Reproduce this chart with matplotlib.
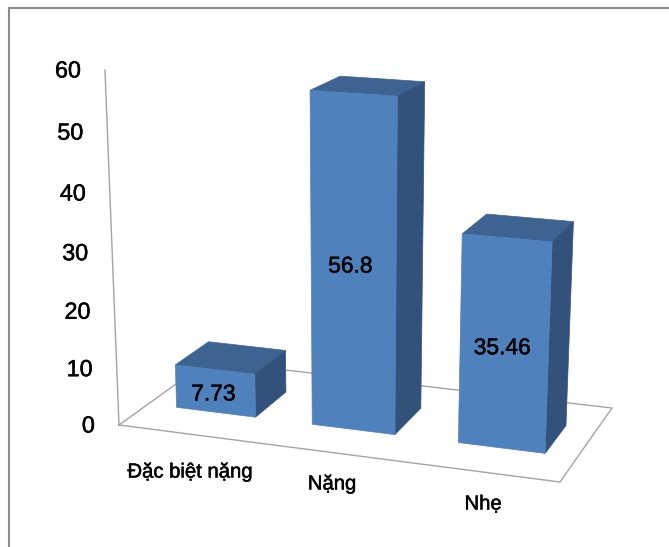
import numpy as np
import matplotlib
matplotlib.use("Agg")
import matplotlib.pyplot as plt
import matplotlib.patheffects as pe

categories = ["Đặc biệt nặng", "Nặng", "Nhẹ"]
values = [7.73, 56.8, 35.46]
value_labels = ["7.73", "56.8", "35.46"]
y_ticks = [0, 10, 20, 30, 40, 50, 60]

plt.rcParams["font.family"] = ["Liberation Sans", "DejaVu Sans"]

# floor corners in pixels: front left, front right, back right, back left
fl, fr, br, bl = (119, 425), (560, 482), (612, 408), (208, 361)
vanish = (351, 6300)  # vertical edges converge here
ymax = 60

front = "#4f81bd"
top = "#3d6491"
side = "#32527c"
line = "#a3a3a3"
frame = "#8c8c8c"

bar_centers = [0.1667, 0.4955, 0.8333]
bar_width = 0.193
depth0, depth1 = 0.31, 0.69

# homography for the floor, (u, w) in the unit square
dx1, dx2, sx = fr[0] - br[0], bl[0] - br[0], fl[0] - fr[0] + br[0] - bl[0]
dy1, dy2, sy = fr[1] - br[1], bl[1] - br[1], fl[1] - fr[1] + br[1] - bl[1]
det = dx1 * dy2 - dx2 * dy1
g = (sx * dy2 - dx2 * sy) / det
h = (dx1 * sy - sx * dy1) / det
a = fr[0] - fl[0] + g * fr[0]
b = bl[0] - fl[0] + h * bl[0]
d = fr[1] - fl[1] + g * fr[1]
e = bl[1] - fl[1] + h * bl[1]
# scale of the value axis, chosen so 60 lands at the top of the axis line
axis_top_y = 70
s = (axis_top_y - fl[1]) / (ymax * (vanish[1] - axis_top_y))


def proj(u, w, v):
    den = g * u + h * w + 1 + v * s
    x = (a * u + b * w + fl[0] + v * s * vanish[0]) / den
    y = (d * u + e * w + fl[1] + v * s * vanish[1]) / den
    return x, y


# slightly heavier text
heavy = [pe.withStroke(linewidth=0.35, foreground="black")]

fig = plt.figure(figsize=(6.69, 5.47), dpi=100)
ax = fig.add_axes([0, 0, 1, 1])
ax.set_xlim(0, 669)
ax.set_ylim(547, 0)
ax.axis("off")

# outer border, only left and top are inside the image
ax.plot([9, 9, 669], [547, 8, 8], color=frame, lw=1.5, solid_joinstyle="miter")

# floor and value axis
corners = [proj(0, 0, 0), proj(1, 0, 0), proj(1, 1, 0), proj(0, 1, 0), proj(0, 0, 0)]
ax.plot([c[0] for c in corners], [c[1] for c in corners], color=line, lw=1)
p0, p1 = proj(0, 0, 0), proj(0, 0, ymax)
ax.plot([p0[0], p1[0]], [p0[1], p1[1]], color=line, lw=1)

for t in y_ticks:
    x, y = proj(0, 0, t)
    ax.text(x - 24, y + 1, str(t), ha="right", va="center", fontsize=16.8, color="black", path_effects=heavy)

label_nudge = [(-2, 3), (-3, 0), (-2, 3)]
for i, v in enumerate(values):
    u0 = bar_centers[i] - bar_width / 2
    u1 = u0 + bar_width
    ax.fill(*zip(proj(u0, depth0, v), proj(u1, depth0, v), proj(u1, depth1, v), proj(u0, depth1, v)),
            color=top, lw=0.5, zorder=3)
    ax.fill(*zip(proj(u1, depth0, 0), proj(u1, depth1, 0), proj(u1, depth1, v), proj(u1, depth0, v)),
            color=side, lw=0.5, zorder=3)
    ax.fill(*zip(proj(u0, depth0, 0), proj(u1, depth0, 0), proj(u1, depth0, v), proj(u0, depth0, v)),
            color=front, lw=0.5, zorder=4)
    x, y = proj((u0 + u1) / 2, depth0, v / 2)
    ax.text(x + label_nudge[i][0], y + label_nudge[i][1], value_labels[i], ha="center", va="center",
            fontsize=16.4, color="black", zorder=5, path_effects=heavy)

label_pos = [(190, 472), (332, 484), (483, 504)]
for name, (x, y) in zip(categories, label_pos):
    ax.text(x, y, name, ha="center", va="center", fontsize=14.6, color="black", path_effects=heavy)

fig.savefig("out.png", dpi=100)
